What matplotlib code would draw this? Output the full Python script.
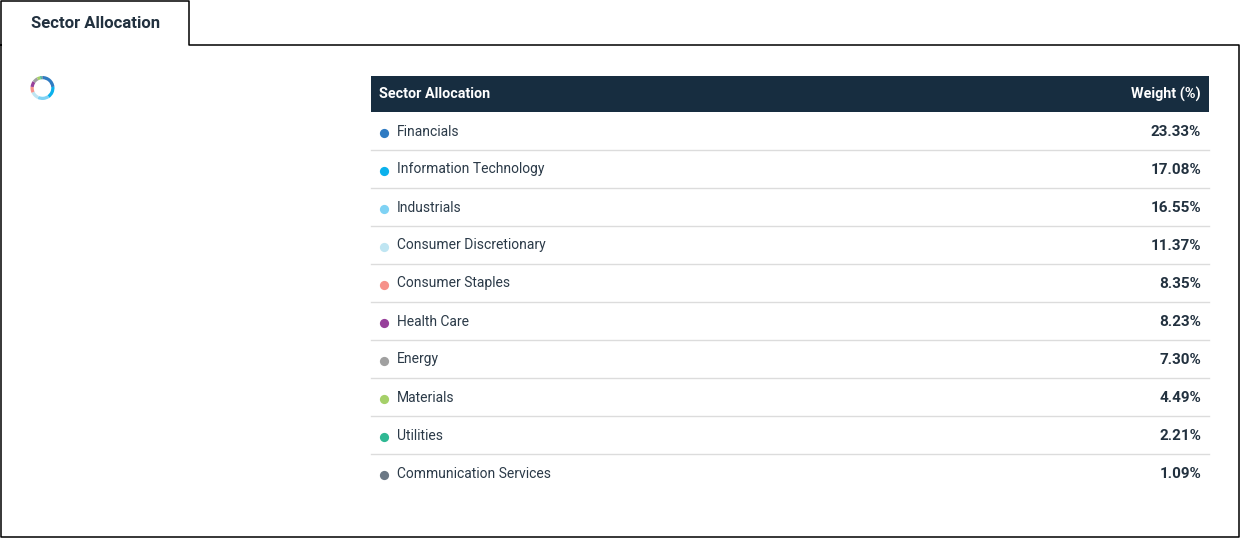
import matplotlib.pyplot as plt
from matplotlib.patches import Rectangle

plt.rcParams['font.family'] = ['Roboto', 'DejaVu Sans']

# data
sectors = ['Financials', 'Information Technology', 'Industrials', 'Consumer Discretionary',
           'Consumer Staples', 'Health Care', 'Energy', 'Materials', 'Utilities',
           'Communication Services']
weights = [23.33, 17.08, 16.55, 11.37, 8.35, 8.23, 7.30, 4.49, 2.21, 1.09]
colors = ['#2f7bc2', '#0bb1ec', '#7fd2f4', '#bfe5f2', '#f6918a', '#973f9a',
          '#a0a0a0', '#a5d069', '#2fb893', '#6b7885']

W, H = 1240, 538
fig = plt.figure(figsize=(W / 100, H / 100), dpi=100)
ax = fig.add_axes([0, 0, 1, 1])
ax.set_xlim(0, W)
ax.set_ylim(H, 0)
ax.axis('off')

txt = '#22313f'

# tab + panel outline
ax.plot([0.5, 0.5, 189, 189, 1238.5, 1238.5, 0.5, 0.5],
        [45, 0.5, 0.5, 45, 45, 537, 537, 45], color='black', lw=1.1)
ax.text(31, 23, 'Sector Allocation', fontsize=12, fontweight='bold', color=txt,
        va='center', ha='left')

# table header
x0, x1 = 371, 1209
top, hh, rh = 76, 36, 38
ax.add_patch(Rectangle((x0, top), x1 - x0, hh, color='#172d40', lw=0))
ax.text(379, top + hh / 2 + 0.5, 'Sector Allocation', fontsize=10.4, fontweight='bold',
        color='white', va='center')
ax.text(1201, top + hh / 2 + 0.5, 'Weight (%)', fontsize=10.4, fontweight='bold',
        color='white', va='center', ha='right')

for i, (s, w, c) in enumerate(zip(sectors, weights, colors)):
    yc = top + hh + rh * i + rh / 2
    ax.scatter([384], [yc + 1.5], s=44, color=c, lw=0)
    ax.text(397, yc + 0.5, s, fontsize=10, color='#2b3a48', va='center')
    ax.text(1201, yc + 0.5, f'{w:.2f}%', fontsize=11, fontweight='bold', color=txt,
            va='center', ha='right')
    if i < len(sectors) - 1:
        ax.plot([x0, x1], [yc + rh / 2, yc + rh / 2], color='#dcdcdc', lw=1)

# small donut
d = 24
dax = fig.add_axes([(42.5 - d / 2) / W, 1 - (88 + d / 2) / H, d / W, d / H])
dax.pie(weights, colors=colors, startangle=90, counterclock=False,
        wedgeprops=dict(width=0.27, linewidth=0))
dax.set_xlim(-1, 1)
dax.set_ylim(-1, 1)
dax.set_aspect('equal')

fig.savefig('out.png', dpi=100)
